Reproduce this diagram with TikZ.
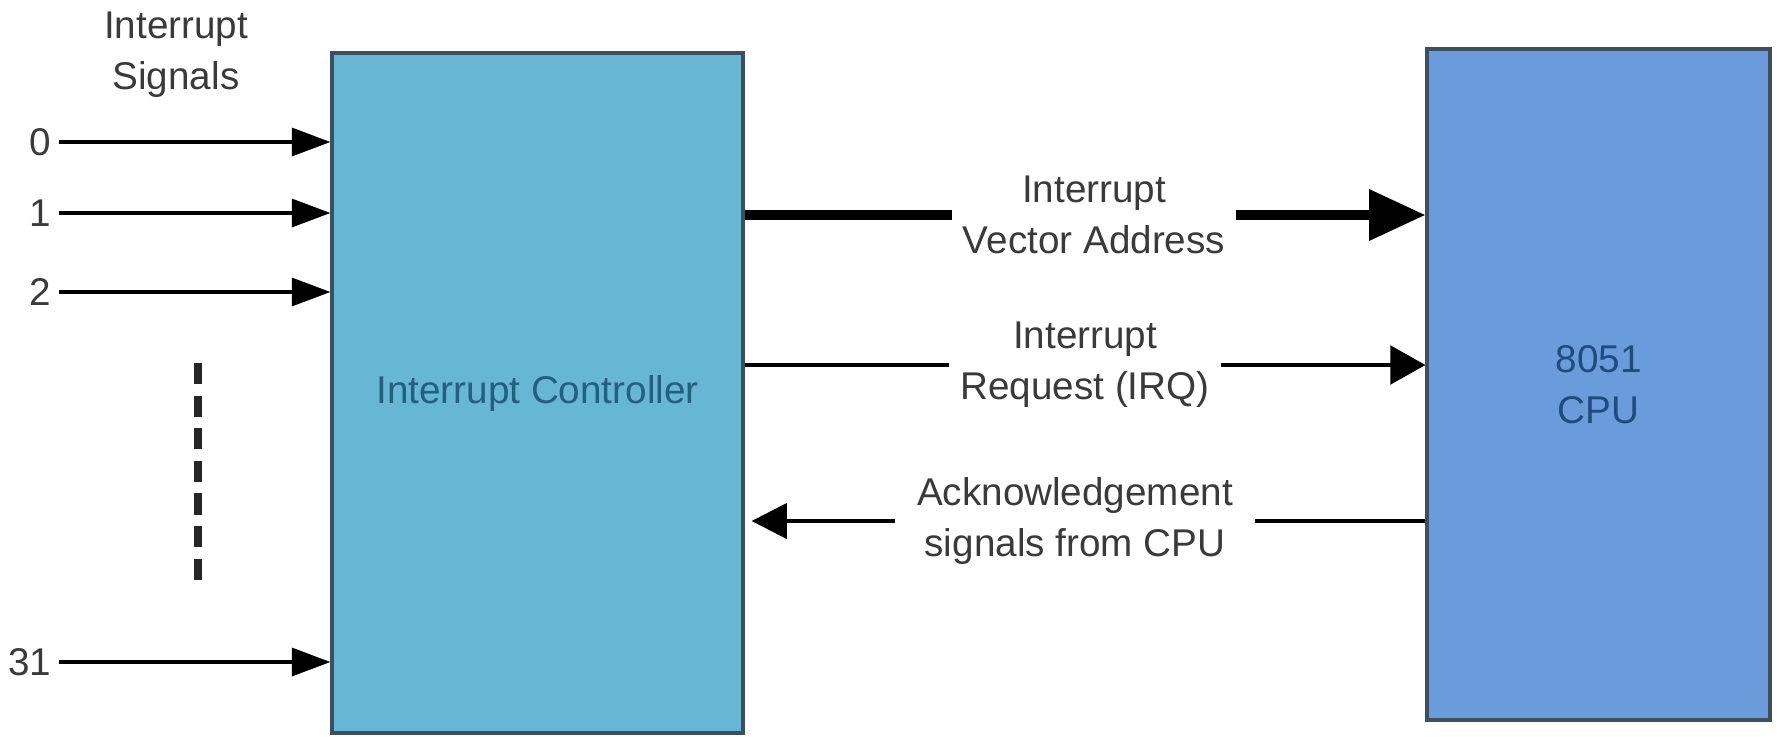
\documentclass[tikz,border=0pt]{standalone}
\usepackage{fontspec}
\setmainfont{Liberation Sans}
\usepackage{tikz}
\usetikzlibrary{arrows.meta,positioning}

\definecolor{ctrlfill}{HTML}{67B6D4}
\definecolor{cpufill}{HTML}{6A9CDC}
\definecolor{boxedge}{HTML}{3D4F5E}
\definecolor{ctrltext}{HTML}{21607F}
\definecolor{cputext}{HTML}{1E4C80}
\definecolor{labelgray}{HTML}{3A3A3A}

\begin{document}
\begin{tikzpicture}[
    block/.style={draw=boxedge,line width=0.9pt,inner sep=0pt,align=center,
      font=\fontsize{11}{14.5}\selectfont},
    txt/.style={text=labelgray,font=\fontsize{11}{14.5}\selectfont,align=center},
    sig/.style={line width=0.9pt,-{Triangle[length=11pt,width=8pt]}},
    thinline/.style={line width=1pt},
    busline/.style={line width=2.6pt},
  ]
    \useasboundingbox (0,0) rectangle (17.79,-7.36);

    % Blocs
    \node[block,fill=ctrlfill,text=ctrltext,minimum width=4.11cm,minimum height=6.80cm]
      (ctrl) at (5.375,-3.93) {Interrupt Controller};
    \node[block,fill=cpufill,text=cputext,minimum width=3.43cm,minimum height=6.71cm]
      (cpu) at (15.985,-3.845) {8051\\CPU};

    % Signaux d'interruption
    \node[txt] (sigtitle) at (1.76,-0.55) {Interrupt\\Signals};
    \foreach \n/\y in {0/1.42,1/2.13,2/2.92,31/6.62} {
      \node[txt,anchor=east,inner xsep=2pt] (in\n) at (0.59,-\y) {\n};
      \draw[sig] (in\n) -- (in\n -| ctrl.west);
    }

    % Pointilles entre 2 et 31
    \coordinate (dottop) at (1.98,-3.63);
    \coordinate (dotbot) at (1.98,-5.80);
    \draw[line width=2.2pt,dash pattern=on 6pt off 3.28pt,black!85] (dottop) -- (dotbot);

    % Adresse du vecteur
    \node[txt,inner xsep=3pt] (vec) at (10.94,-2.15) {Interrupt\\Vector Address};
    \draw[busline] (vec -| ctrl.east) -- (vec.west);
    \draw[busline,-{Triangle[length=16pt,width=14pt]}] (vec.east) -- (vec -| cpu.west);

    % Requete IRQ
    \node[txt,inner xsep=3pt] (irq) at (10.85,-3.65) {Interrupt\\Request (IRQ)};
    \draw[thinline] (irq -| ctrl.east) -- (irq.west);
    \draw[thinline,-{Triangle[length=10pt,width=11pt]}] (irq.east) -- (irq -| cpu.west);

    % Acquittement
    \node[txt,inner xsep=6pt] (ack) at (10.75,-5.21) {Acknowledgement\\signals from CPU};
    \draw[thinline] (ack -| cpu.west) -- (ack.east);
    \draw[thinline,-{Triangle[length=10pt,width=10pt]},shorten >=2pt] (ack.west) -- (ack -| ctrl.east);

\end{tikzpicture}
\end{document}
